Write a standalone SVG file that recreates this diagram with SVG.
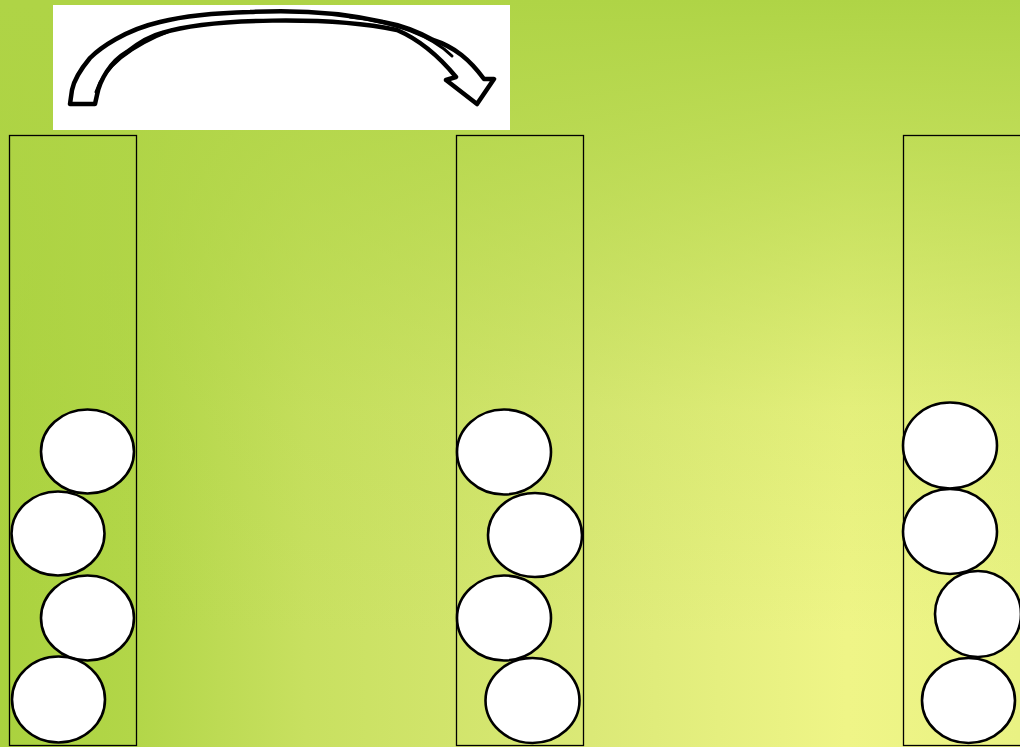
<svg xmlns="http://www.w3.org/2000/svg" width="1020" height="747" viewBox="0 0 1020 747">
  <defs>
    <linearGradient id="bgx" gradientUnits="userSpaceOnUse" x1="0" y1="0" x2="1020" y2="0">
      <stop offset="0" stop-color="#aad23e"/>
      <stop offset="0.13" stop-color="#b2d648"/>
      <stop offset="0.3" stop-color="#c8e060"/>
      <stop offset="0.58" stop-color="#dbe977"/>
      <stop offset="0.83" stop-color="#eff587"/>
      <stop offset="1" stop-color="#e9f283"/>
    </linearGradient>
    <linearGradient id="bgy" gradientUnits="userSpaceOnUse" x1="0" y1="0" x2="0" y2="747">
      <stop offset="0" stop-color="#afd446" stop-opacity="1"/>
      <stop offset="0.2" stop-color="#afd446" stop-opacity="0.72"/>
      <stop offset="0.55" stop-color="#afd446" stop-opacity="0.18"/>
      <stop offset="0.85" stop-color="#afd446" stop-opacity="0"/>
    </linearGradient>
  </defs>
  <style>
    .tube { fill: none; stroke: #000; stroke-width: 1.3; }
    .ball { fill: #fff; stroke: #000; stroke-width: 2.6; }
    .card { fill: #fff; }
    .arrow { fill: #fff; stroke: #000; stroke-width: 4.5; stroke-linejoin: round; }
    .arrow2 { fill: none; stroke: #000; stroke-width: 3; stroke-linecap: round; }
  </style>
  <rect x="0" y="0" width="1020" height="747" fill="url(#bgx)"/>
  <rect x="0" y="0" width="1020" height="747" fill="url(#bgy)"/>

  <g id="card">
    <rect class="card" x="53" y="5" width="457" height="125"/>
  </g>

  <g id="connectors">
    <path class="arrow" d="M70,104 L95,104 L97,95 C100,80 110,62 127,52 C140,42 150,36 162,33 C210,18 330,16 397,30 C420,40 438,55 456,77 L446,80 L477,104 L494,79 L484,79 C470,60 455,47 433,40 C415,30 400,25 383,22 C340,12 290,10 250,12 C210,13 180,17 160,22 C125,30 100,48 90,58 C80,70 74,80 72,90 Z"/>
    <path class="arrow2" d="M96,92 C103,70 125,48 172,30"/>
    <path class="arrow2" d="M350,17 C395,22 432,36 452,56"/>
  </g>

  <g id="tube-1">
    <rect class="tube" x="9.5" y="135.5" width="127" height="610"/>
    <ellipse class="ball" cx="87.5" cy="451.5" rx="46.5" ry="42"/>
    <ellipse class="ball" cx="58" cy="533.5" rx="46.5" ry="42"/>
    <ellipse class="ball" cx="87.5" cy="618" rx="46.5" ry="42.5"/>
    <ellipse class="ball" cx="58.5" cy="699.5" rx="46.5" ry="43"/>
  </g>

  <g id="tube-2">
    <rect class="tube" x="456.5" y="135.5" width="127" height="610"/>
    <ellipse class="ball" cx="504" cy="452" rx="47" ry="42.5"/>
    <ellipse class="ball" cx="535" cy="535" rx="47" ry="42"/>
    <ellipse class="ball" cx="504" cy="618" rx="47" ry="42.5"/>
    <ellipse class="ball" cx="532.5" cy="700.5" rx="47" ry="42.5"/>
  </g>

  <g id="tube-3">
    <rect class="tube" x="903.5" y="135.5" width="127" height="610"/>
    <ellipse class="ball" cx="950" cy="445.5" rx="47" ry="43"/>
    <ellipse class="ball" cx="950" cy="531.5" rx="47" ry="42.5"/>
    <ellipse class="ball" cx="978" cy="614" rx="43" ry="43"/>
    <ellipse class="ball" cx="968.5" cy="700.5" rx="46.5" ry="42.5"/>
  </g>
</svg>
